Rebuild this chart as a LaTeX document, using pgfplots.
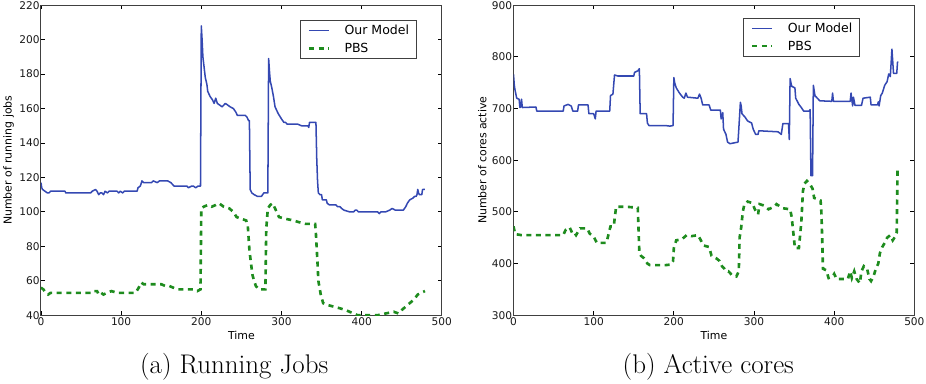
\documentclass[border=0pt]{standalone}
\usepackage{pgfplots}
\pgfplotsset{compat=1.18}
\usepackage{fontspec}
\newfontfamily\dejavu{DejaVu Sans}
\definecolor{mblue}{RGB}{52,72,178}
\definecolor{mgreen}{RGB}{30,140,30}
\pgfplotsset{
  mystyle/.style={
    scale only axis, width=397pt, height=307pt,
    xmin=0, xmax=500,
    clip mode=individual,
    xtick={0,100,200,300,400,500},
    axis line style={black!75, line width=0.9pt},
    tick align=inside,
    major tick length=4pt,
    tick style={black, line width=0.8pt},
    /pgf/number format/assume math mode=true,
    ticklabel style={font=\dejavu\fontsize{10.5}{12}\selectfont, text=black!90},
    xticklabel style={inner sep=1.5pt, yshift=-0.5pt},
    yticklabel style={inner sep=1.2pt},
    xlabel=Time,
    every axis x label/.style={at={(axis description cs:0.5,-0.065)}, anchor=center, font=\dejavu\fontsize{10.8}{12}\selectfont},
    legend cell align=left,
    legend image code/.code={\draw[##1] (0pt,0pt) -- (20pt,0pt);},
    legend style={font=\dejavu\fontsize{12.4}{14}\selectfont, draw=black!75, line width=0.8pt,
      inner xsep=7pt, inner ysep=5pt, row sep=8pt,
      /tikz/every odd column/.append style={column sep=14pt},
      nodes={inner sep=0pt, text height=9pt, text depth=0.5pt}},
  },
  blueline/.style={color=mblue, line width=1.5pt, line join=round},
  greenline/.style={color=mgreen, line width=2.6pt, dash pattern=on 5pt off 4.5pt},
}
\begin{document}
\begin{tikzpicture}
\begin{axis}[mystyle,
  ymin=40, ymax=220, ytick={40,60,80,100,120,140,160,180,200,220},
  ylabel={Number of running jobs},
  every axis y label/.style={at={(axis description cs:-0.0806,0.5)}, rotate=90, anchor=center, font=\dejavu\fontsize{10.8}{12}\selectfont},
  legend style={at={(axis description cs:0.937,0.951)}, anchor=north east},
]
\addplot[blueline] coordinates {
(0,117) (1,114) (2,113) (5,112) (8,111) (10,111) (12,112) (30,112) (31,111) (62,111)
(64,112) (68,113) (70,112) (72,110) (74,111) (76,111) (78,110) (80,112) (83,111) (85,112)
(95,112) (97,111) (99,112) (102,111) (104,112) (120,112) (121,114) (124,115) (126,118) (128,117)
(130,117) (138,117) (140,118) (145,117) (148,118) (158,118) (162,117) (166,115) (182,115) (184,114)
(188,115) (190,115) (193,114) (196,115) (199,115) (200,208) (201,200) (202,190) (204,182) (205,178)
(207,174) (208,170) (211,167) (214,165) (216,163) (218,166) (220,163) (223,162) (226,161) (230,163)
(233,162) (236,161) (240,160) (243,158) (245,156) (250,156) (255,156) (257,155) (259,153) (260,153)
(261,113) (263,111) (266,110) (270,109) (275,109) (278,111) (283,111) (284,189) (285,182) (286,176)
(288,172) (290,167) (292,161) (294,159) (296,157) (300,154) (303,152) (305,152) (307,151) (320,151)
(325,150) (333,150) (334,149) (335,152) (343,152) (344,131) (345,118) (346,111) (348,110) (350,110)
(351,107) (356,107) (357,105) (360,104) (368,104) (370,103) (373,103) (375,102) (378,101) (385,100)
(390,100) (392,101) (394,101) (396,100) (420,100) (422,99) (424,100) (430,100) (435,101) (438,102)
(442,101) (452,101) (455,103) (457,105) (460,107) (464,108) (466,109) (468,109) (469,110) (470,113)
(471,111) (472,110) (475,110) (476,113) (479,113)
};
\addlegendentry{Our Model}
\addplot[greenline] coordinates {
(0,56) (3,55) (6,53) (9,52) (12,53) (62,53) (65,54) (70,54) (72,52) (75,53)
(78,52) (82,53) (88,54) (95,53) (118,53) (122,56) (125,59) (128,58) (140,58) (150,58)
(155,57) (160,57) (165,56) (170,55) (190,55) (195,54) (199,55) (200,102) (203,103) (208,104)
(213,103) (218,104) (222,105) (228,103) (235,102) (240,100) (244,97) (250,96) (256,95) (258,92)
(259,85) (260,78) (262,70) (264,63) (266,60) (268,57) (272,55) (280,55) (281,90) (283,102)
(286,104) (289,105) (293,101) (297,97) (305,96) (315,95) (322,94) (330,93) (342,93) (343,87)
(345,70) (346,60) (349,52) (352,47) (357,46) (365,45) (373,44) (380,43) (385,42) (390,41)
(395,40) (410,40) (420,40) (425,40.5) (430,41) (440,42) (446,41) (450,43) (455,45) (460,47)
(465,49) (470,52) (474,53) (479,54)
};
\addlegendentry{PBS}
\node[font=\fontsize{26.7}{30}\selectfont, anchor=base] at (axis description cs:0.482,-0.189) {(a) Running Jobs};
\end{axis}

\begin{axis}[mystyle, at={(468pt,0pt)},
  ymin=300, ymax=900, ytick={300,400,500,600,700,800,900},
  ylabel={Number of cores active},
  every axis y label/.style={at={(axis description cs:-0.078,0.5)}, rotate=90, anchor=center, font=\dejavu\fontsize{10.8}{12}\selectfont},
  legend style={at={(axis description cs:0.864,0.958)}, anchor=north east},
]
\addplot[blueline] coordinates {
(0,766) (1,745) (2,735) (4,720) (7,718) (8,702) (9,703) (10,718) (11,702) (28,703)
(29,695) (62,695) (63,705) (68,708) (72,705) (74,695) (80,695) (81,707) (93,707) (94,690)
(100,690) (101,685) (102,680) (103,695) (120,695) (121,725) (124,728) (126,765) (130,763) (150,763)
(151,770) (155,773) (157,777) (158,690) (166,690) (167,672) (169,667) (190,667) (195,666) (199,667)
(200,760) (201,750) (203,740) (207,730) (211,722) (213,720) (215,730) (217,722) (230,720) (232,728)
(234,720) (236,707) (244,707) (246,697) (258,697) (259,680) (261,692) (262,660) (265,650) (267,635)
(270,632) (280,635) (281,660) (283,712) (284,705) (285,690) (289,683) (292,676) (297,672) (299,660)
(302,650) (305,650) (306,657) (330,655) (334,650) (336,671) (343,671) (344,640) (345,758) (347,743)
(351,740) (352,720) (356,708) (359,702) (362,695) (369,695) (370,698) (371,570) (373,570) (374,745)
(376,725) (379,720) (382,715) (397,714) (398,730) (399,714) (420,714) (421,730) (423,705) (424,722)
(426,706) (434,706) (436,720) (445,722) (446,707) (454,707) (455,713) (456,705) (458,725) (460,730)
(463,745) (466,752) (468,767) (470,762) (472,815) (474,768) (478,768) (479,790) (480,790)
};
\addlegendentry{Our Model}
\addplot[greenline] coordinates {
(0,472) (2,457) (10,455) (62,455) (65,465) (70,470) (73,460) (75,462) (78,455) (83,468)
(92,468) (95,458) (100,452) (104,440) (116,440) (119,460) (121,472) (125,472) (128,510) (140,510)
(155,508) (157,420) (159,415) (163,410) (167,400) (170,397) (190,397) (196,398) (199,405) (200,430)
(203,445) (210,447) (216,455) (222,453) (230,455) (233,447) (237,435) (244,432) (247,415) (253,410)
(257,405) (260,395) (263,390) (265,385) (268,385) (270,382) (272,378) (278,375) (281,385) (282,450)
(284,470) (286,500) (288,515) (292,520) (298,517) (301,505) (303,500) (305,495) (307,515) (313,512)
(318,505) (325,510) (328,515) (333,510) (336,507) (345,505) (347,490) (349,460) (351,430) (356,430)
(359,480) (361,540) (363,555) (366,560) (370,553) (373,545) (375,527) (383,522) (384,500) (385,450)
(386,390) (390,387) (393,372) (398,375) (400,380) (403,370) (417,370) (420,385) (422,372) (425,385)
(428,370) (432,362) (434,385) (437,395) (441,390) (444,370) (446,366) (449,375) (452,390) (455,400)
(457,420) (460,432) (463,440) (466,450) (470,455) (473,445) (476,452) (478,460) (479,585)
};
\addlegendentry{PBS}
\node[font=\fontsize{26.7}{30}\selectfont, anchor=base] at (axis description cs:0.486,-0.189) {(b) Active cores};
\end{axis}
\end{tikzpicture}
\end{document}
